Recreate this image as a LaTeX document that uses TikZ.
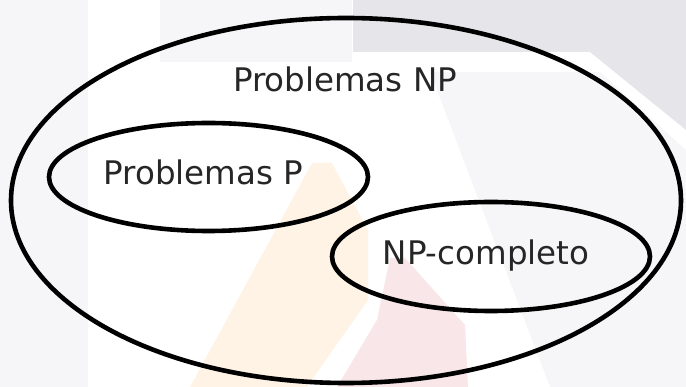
\documentclass[tikz,border=0pt]{standalone}
\usepackage{fontspec}
\setmainfont{DejaVu Sans}
\usetikzlibrary{shapes.geometric}
\usetikzlibrary{positioning}

\definecolor{wmdark}{RGB}{230,229,234}
\definecolor{wmlight}{RGB}{246,246,248}
\definecolor{wmorange}{RGB}{255,243,230}
\definecolor{wmpink}{RGB}{248,230,232}

\begin{document}
\begin{tikzpicture}[
    x=1pt, y=-1pt,
    font=\fontsize{32.5}{39}\selectfont
]
\tikzset{
    myset/.style = {ellipse, draw=black, line width=4.6pt, inner sep=0pt},
    mylabel/.style = {anchor=base, inner sep=0pt, text=black!85},
    wmark/.style = {draw=none}
}
\useasboundingbox (0,0) rectangle (686,387);
% faint background marks
\fill[wmark, wmlight] (0,0) rectangle (88,387);
\fill[wmark, wmlight] (160,0) rectangle (352,62);
\fill[wmark, wmlight] (430,72) -- (600,72) -- (686,150) -- (686,387) -- (550,387) -- cycle;
\fill[wmark, wmdark] (353,0) -- (686,0) -- (686,130) -- (590,52) -- (353,52) -- cycle;
\fill[wmark, wmorange] (312,163) -- (332,163) -- (368,230) -- (368,300) -- (307,387) -- (190,387) -- cycle;
\fill[wmark, wmpink] (390,258) -- (405,258) -- (465,325) -- (468,387) -- (337,387) -- (377,320) -- cycle;
% sets
\node[myset, minimum width=670pt, minimum height=365pt] at (346,200.5) (np) {};
\node[myset, minimum width=319pt, minimum height=108pt] at (208.5,177) (p) {};
\node[myset, minimum width=318pt, minimum height=109pt] at (491,256.5) (npc) {};
\node[mylabel] at (345,92) (nptext) {Problemas NP};
\node[mylabel] at (203.5,185) (ptext) {Problemas P};
\node[mylabel] at (486,265) (npctext) {NP-completo};
\end{tikzpicture}
\end{document}
